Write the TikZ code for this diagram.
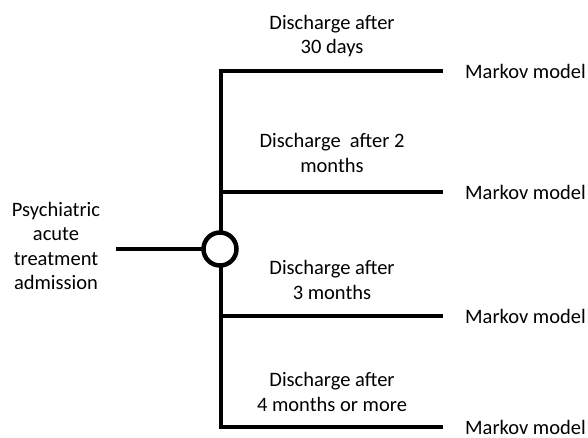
\documentclass[tikz,border=0pt]{standalone}
\usepackage{fontspec}
\setmainfont{Carlito}
\begin{document}
\begin{tikzpicture}[x=1pt,y=-1pt,
  every node/.style={font=\fontsize{20.5}{24.5}\selectfont, align=center, inner sep=0pt},
  branch/.style={line width=4.2pt, line cap=rect},
  chance/.style={circle, draw, line width=4.5pt, fill=white, minimum size=33pt}]
\useasboundingbox (0,0) rectangle (588,437);
\node (adm) at (56,246) {Psychiatric\\acute\\treatment\\admission};
\coordinate (top) at (221,71);
\coordinate (bot) at (221,427);
\draw[branch] (top) -- (bot);
\foreach \y/\lbl/\ty [count=\i] in {71/{Discharge after\\30 days}/36,
    192/{Discharge~ after 2\\months}/153,
    316/{Discharge after\\3 months}/280,
    427/{Discharge after\\4 months or more}/392}{
  \coordinate (j\i) at (221,\y);
  \coordinate (e\i) at (441,\y);
  \node[anchor=west] (m\i) at (465,\y) {Markov model};
  \node (d\i) at (332,\ty) {\lbl};
  \draw[branch] (j\i) -- (e\i);
}
\coordinate (s) at (118,249);
\node[chance] (c) at (220,249) {};
\draw[branch] (s) -- (c);
\end{tikzpicture}
\end{document}
